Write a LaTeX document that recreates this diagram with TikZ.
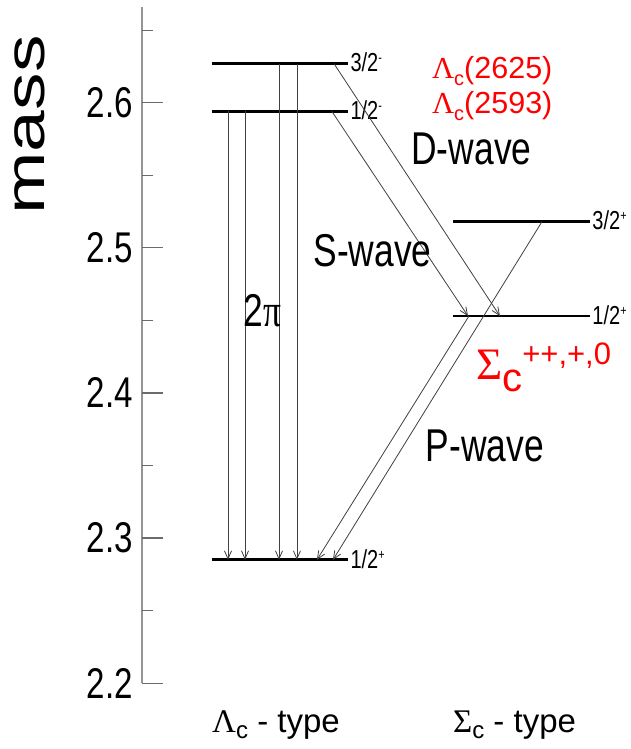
\documentclass[tikz,border=0pt]{standalone}
\usepackage{fontspec}
\setmainfont{Liberation Sans}
\newfontfamily\grk{Liberation Serif}
\usepackage{tikz}
\usetikzlibrary{arrows.meta, calc}
\definecolor{axisgray}{rgb}{0.58, 0.58, 0.58}
\definecolor{tickgray}{rgb}{0.42, 0.42, 0.42}
\definecolor{statered}{rgb}{1.0, 0.0, 0.0}
\newcommand\parsign[1]{\raisebox{9pt}{\fontsize{14}{14}\selectfont #1}}

\begin{document}
\begin{tikzpicture}[x=1pt, y=1451.5pt,
        level/.style={line width=2.7pt, black},
        trans/.style={line width=0.8pt, black!75, -{Straight Barb[length=8pt, width=7pt]}},
        axisline/.style={draw=axisgray, line width=1.8pt},
        tickline/.style={draw=tickgray, line width=1.2pt},
        ticklbl/.style={font=\fontsize{43}{43}\selectfont, anchor=east, xscale=0.77, inner sep=0pt},
        masslbl/.style={font=\fontsize{75}{75}\selectfont, xscale=0.74, rotate=90, inner sep=0pt},
        spinlbl/.style={font=\fontsize{26}{26}\selectfont, anchor=west, xscale=0.77, inner sep=0pt, xshift=2pt, yshift=1pt},
        wavelbl/.style={font=\fontsize{46}{46}\selectfont, anchor=base, xscale=0.77, inner sep=0pt},
        statelbl/.style={font=\fontsize{30.5}{30.5}\selectfont, text=statered, anchor=base west, inner sep=0pt},
        typelbl/.style={font=\fontsize{33}{33}\selectfont, anchor=base west, inner sep=0pt}
    ]
    \path[use as bounding box, fill=white] (0, 2.1547) rectangle (631, 2.6708);

    % mass axis
    \draw[axisline] (142, 2.2) -- (142, 2.6659);
    \foreach \m [count=\i] in {2.2, 2.3, 2.4, 2.5, 2.6} {
            \draw[tickline] (142, \m) -- (163, \m);
            \node[ticklbl] (tick\i) at (133, \m) {\m};
        }
    \foreach \m in {2.25, 2.35, 2.45, 2.55, 2.65}
    \draw[tickline] (142, \m) -- (153, \m);
    \node[masslbl] (mass) at (30, 2.5846) {mass};

    % Lambda_c levels
    \coordinate (Lm32w) at (212, 2.627);  \coordinate (Lm32e) at (348, 2.627);
    \coordinate (Lm12w) at (212, 2.594);  \coordinate (Lm12e) at (348, 2.594);
    \coordinate (Lp12w) at (212, 2.285);  \coordinate (Lp12e) at (348, 2.285);
    \draw[level] (Lm32w) -- (Lm32e) node[spinlbl] (spinLm32) {3/2\parsign{-}};
    \draw[level] (Lm12w) -- (Lm12e) node[spinlbl] (spinLm12) {1/2\parsign{-}};
    \draw[level] (Lp12w) -- (Lp12e) node[spinlbl] (spinLp12) {1/2\parsign{+}};

    % Sigma_c levels
    \coordinate (Sp32w) at (453, 2.518);  \coordinate (Sp32e) at (590, 2.518);
    \coordinate (Sp12w) at (453, 2.453);  \coordinate (Sp12e) at (590, 2.453);
    \draw[level] (Sp32w) -- (Sp32e) node[spinlbl] (spinSp32) {3/2\parsign{+}};
    \draw[level] (Sp12w) -- (Sp12e) node[spinlbl] (spinSp12) {1/2\parsign{+}};

    % 2pi decays
    \foreach \f in {0.118, 0.243}
    \draw[trans] ($(Lm12w)!\f!(Lm12e)$) -- ($(Lp12w)!\f!(Lp12e)$);
    \foreach \f in {0.493, 0.625}
    \draw[trans] ($(Lm32w)!\f!(Lm32e)$) -- ($(Lp12w)!\f!(Lp12e)$);
    \node[wavelbl] (twopi) at (262.5, 2.4455) {2{\grk π}};

    % S- and D-wave
    \draw[trans] ($(Lm12w)!0.882!(Lm12e)$) -- ($(Sp12w)!0.11!(Sp12e)$);
    \draw[trans] ($(Lm32w)!0.897!(Lm32e)$) -- ($(Sp12w)!0.343!(Sp12e)$);
    \node[wavelbl] (swave) at (372.5, 2.4868) {S-wave};
    \node[wavelbl] (dwave) at (471.5, 2.5571) {D-wave};

    % P-wave
    \draw[trans] ($(Sp32w)!0.65!(Sp32e)$) -- ($(Lp12w)!0.89!(Lp12e)$);
    \draw[trans] ($(Sp12w)!0.117!(Sp12e)$) -- ($(Lp12w)!0.772!(Lp12e)$);
    \node[wavelbl] (pwave) at (485, 2.3527) {P-wave};

    % states
    \node[statelbl] (lam2625) at (432, 2.6168) {{\grk Λ}\raisebox{-7pt}{\fontsize{20}{20}\selectfont c}(2625)};
    \node[statelbl] (lam2593) at (432, 2.5927) {{\grk Λ}\raisebox{-7pt}{\fontsize{20}{20}\selectfont c}(2593)};
    \node[statelbl, font=\fontsize{45}{45}\selectfont] (sigc) at (476, 2.409) {{\grk Σ}\raisebox{-12pt}{\fontsize{40}{40}\selectfont c}\raisebox{15pt}{\fontsize{31}{31}\selectfont ++,+,0}};

    % types
    \node[typelbl] (lamtype) at (212, 2.1658) {{\grk Λ}\raisebox{-6pt}{\fontsize{24}{24}\selectfont c} - type};
    \node[typelbl] (sigtype) at (453, 2.1658) {{\grk Σ}\raisebox{-6pt}{\fontsize{24}{24}\selectfont c} - type};
\end{tikzpicture}
\end{document}
